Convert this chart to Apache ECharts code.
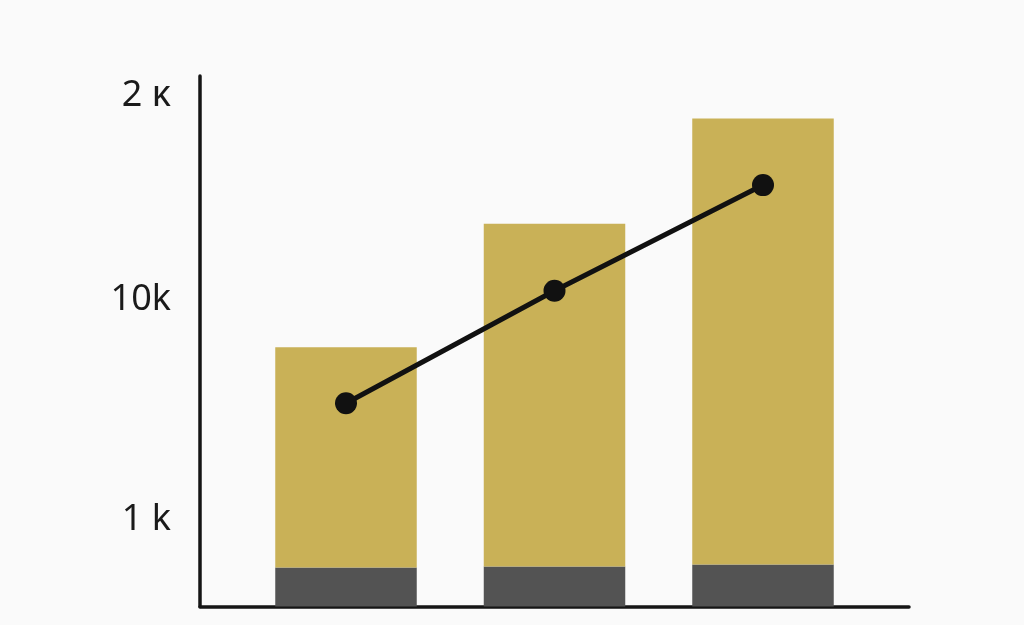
<!DOCTYPE html>
<html>
<head>
<meta charset="utf-8">
<title>chart</title>
<script src="https://cdn.jsdelivr.net/npm/echarts@6/dist/echarts.min.js"></script>
<style>
  html, body { margin: 0; padding: 0; background: #fafafa; }
  #main { width: 1024px; height: 625px; }
</style>
</head>
<body>
<div id="main"></div>
<script type="text/javascript">
    // data
    var categories = ['A', 'B', 'C'];
    var baseValues = [39, 40, 42];
    var topValues = [220, 342.5, 445.5];
    var lineValues = [203, 315.5, 421];
    var tickValues = [86.5, 306.5, 510.5];
    var tickLabels = ['1 k', '10k', '2 κ'];

    var myChart = echarts.init(document.getElementById('main'));

    // grid 0 only carries the visible axes, grid 1 carries the marks
    var option = {
        backgroundColor: '#fafafa',
        animation: false,
        grid: [
            { left: 200, right: 115, top: 76, bottom: 18.5 },
            { left: 241.75, right: 156.75, top: 76, bottom: 18.5 }
        ],
        xAxis: [
            {
                gridIndex: 0,
                type: 'value',
                min: 0,
                max: 1,
                axisLine: { show: true, lineStyle: { color: '#151515', width: 3.5 } },
                axisTick: { show: false },
                axisLabel: { show: false },
                splitLine: { show: false }
            },
            {
                gridIndex: 1,
                type: 'category',
                data: categories,
                show: false
            }
        ],
        yAxis: [
            {
                gridIndex: 0,
                type: 'value',
                min: 0,
                max: 530,
                axisLine: { show: true, onZero: false, lineStyle: { color: '#151515', width: 3.5 } },
                axisTick: { show: false },
                splitLine: { show: false },
                axisLabel: {
                    customValues: tickValues,
                    margin: 29,
                    fontSize: 36,
                    fontFamily: 'Noto Sans',
                    color: '#1a1a1a',
                    formatter: function (v) {
                        var i = tickValues.indexOf(v);
                        return i >= 0 ? tickLabels[i] : '';
                    }
                }
            },
            {
                gridIndex: 1,
                type: 'value',
                min: 0,
                max: 530,
                show: false
            }
        ],
        series: [
            {
                name: 'base',
                type: 'bar',
                xAxisIndex: 1,
                yAxisIndex: 1,
                stack: 'a',
                barWidth: 141.5,
                itemStyle: { color: '#535353' },
                data: baseValues
            },
            {
                name: 'top',
                type: 'bar',
                xAxisIndex: 1,
                yAxisIndex: 1,
                stack: 'a',
                barWidth: 141.5,
                itemStyle: { color: '#c9b157' },
                data: topValues
            },
            {
                name: 'line',
                type: 'line',
                xAxisIndex: 1,
                yAxisIndex: 1,
                z: 5,
                symbol: 'circle',
                symbolSize: 22,
                itemStyle: { color: '#111111' },
                lineStyle: { color: '#111111', width: 5 },
                data: lineValues
            }
        ]
    };

    myChart.setOption(option);
</script>
</body>
</html>
